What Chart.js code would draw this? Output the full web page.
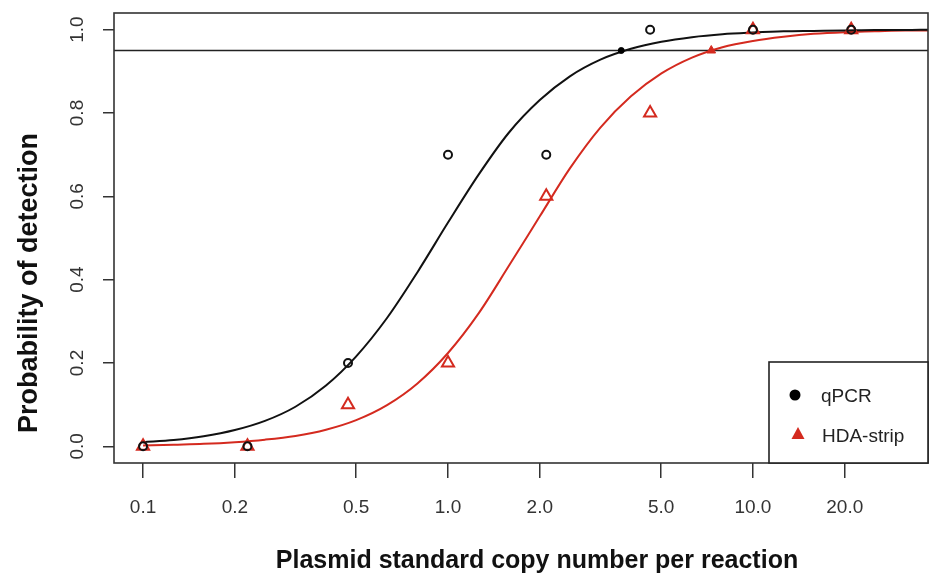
<!DOCTYPE html>
<html>
<head>
<meta charset="utf-8">
<script src="https://cdn.jsdelivr.net/npm/chart.js@4.4.0/dist/chart.umd.min.js"></script>
<style>
  html, body { margin: 0; padding: 0; background: #fff; }
</style>
</head>
<body>
<canvas id="pod" width="932" height="575"></canvas>
<script>
// observed detection rates per dilution
const copies = [0.1, 0.22, 0.47, 1.0, 2.1, 4.6, 10, 21];
const qpcrObs = [0, 0, 0.2, 0.7, 0.7, 1.0, 1.0, 1.0];
const hdaObs = [0, 0, 0.1, 0.2, 0.6, 0.8, 1.0, 1.0];

// fitted curves
const fitX = [0.1, 0.126, 0.158, 0.2, 0.251, 0.316, 0.398, 0.5, 0.631, 0.794, 1.0, 1.26, 1.58, 2.0, 2.51, 3.16, 3.98, 5.01, 6.31, 7.94, 10, 12.6, 15.8, 20, 25.1, 31.6, 37.5];
const qpcrFit = [0.010, 0.015, 0.024, 0.039, 0.061, 0.095, 0.146, 0.216, 0.308, 0.418, 0.537, 0.652, 0.752, 0.831, 0.888, 0.928, 0.954, 0.971, 0.982, 0.989, 0.993, 0.996, 0.997, 0.998, 0.999, 0.999, 1.0];
const hdaFit = [0.002, 0.004, 0.006, 0.010, 0.016, 0.025, 0.040, 0.063, 0.099, 0.151, 0.224, 0.319, 0.432, 0.552, 0.667, 0.765, 0.840, 0.895, 0.933, 0.958, 0.973, 0.983, 0.990, 0.994, 0.996, 0.998, 0.998];

// 95% limit of detection
const lodLevel = 0.95;
const lodX = [3.7, 7.3];

const seriesNames = ["qPCR", "HDA-strip"];
const xRange = [0.0803, 37.5];
const yRange = [-0.04, 1.04];
const xTicks = [0.1, 0.2, 0.5, 1, 2, 5, 10, 20];
const xTickLabels = ["0.1", "0.2", "0.5", "1.0", "2.0", "5.0", "10.0", "20.0"];
const yTicks = [0, 0.2, 0.4, 0.6, 0.8, 1.0];
const yTickLabels = ["0.0", "0.2", "0.4", "0.6", "0.8", "1.0"];
const xTitle = "Plasmid standard copy number per reaction";
const yTitle = "Probability of detection";

const RED = "#d42a1f";
const FONT = '"Liberation Sans", Arial, sans-serif';

const pts = (xs, ys) => xs.map((x, i) => ({ x: x, y: ys[i] }));

// box, rotated y labels, axis titles and legend (R style)
const rFrame = {
  id: "rFrame",
  afterDraw(chart) {
    const ctx = chart.ctx;
    const a = chart.chartArea;
    const yScale = chart.scales.y;
    ctx.save();
    ctx.strokeStyle = "#333";
    ctx.lineWidth = 1.6;
    ctx.strokeRect(a.left, a.top, a.right - a.left, a.bottom - a.top);

    ctx.fillStyle = "#333";
    ctx.font = "19px " + FONT;
    ctx.textAlign = "center";
    ctx.textBaseline = "alphabetic";
    yTicks.forEach((v, i) => {
      ctx.save();
      ctx.translate(83, yScale.getPixelForValue(v));
      ctx.rotate(-Math.PI / 2);
      ctx.fillText(yTickLabels[i], 0, 0);
      ctx.restore();
    });

    ctx.fillStyle = "#111";
    ctx.font = "bold 25px " + FONT;
    ctx.fillText(xTitle, 537, 568, 526);
    ctx.save();
    ctx.translate(37, 283);
    ctx.rotate(-Math.PI / 2);
    ctx.font = "bold 27px " + FONT;
    ctx.fillText(yTitle, 0, 0, 330);
    ctx.restore();

    // legend in the bottom right corner
    ctx.lineWidth = 1.6;
    ctx.strokeStyle = "#222";
    ctx.fillStyle = "#fff";
    ctx.fillRect(a.right - 159, a.bottom - 101, 159, 101);
    ctx.strokeRect(a.right - 159, a.bottom - 101, 159, 101);
    ctx.fillStyle = "#000";
    ctx.beginPath();
    ctx.arc(a.right - 133, a.bottom - 68, 5.5, 0, 2 * Math.PI);
    ctx.fill();
    ctx.fillStyle = RED;
    ctx.beginPath();
    ctx.moveTo(a.right - 130, a.bottom - 36);
    ctx.lineTo(a.right - 123.5, a.bottom - 24);
    ctx.lineTo(a.right - 136.5, a.bottom - 24);
    ctx.closePath();
    ctx.fill();
    ctx.fillStyle = "#222";
    ctx.font = "19px " + FONT;
    ctx.textAlign = "left";
    ctx.fillText(seriesNames[0], a.right - 107, a.bottom - 61);
    ctx.fillText(seriesNames[1], a.right - 106, a.bottom - 21);
    ctx.restore();
  }
};

new Chart(document.getElementById("pod"), {
  type: "scatter",
  data: {
    datasets: [
      {
        label: "qPCR fit",
        data: pts(fitX, qpcrFit),
        showLine: true,
        borderColor: "#111",
        borderWidth: 2,
        pointRadius: 0,
        cubicInterpolationMode: "monotone",
        order: 2
      },
      {
        label: "HDA fit",
        data: pts(fitX, hdaFit),
        showLine: true,
        borderColor: RED,
        borderWidth: 2,
        pointRadius: 0,
        cubicInterpolationMode: "monotone",
        order: 3
      },
      {
        label: "95%",
        data: pts(xRange, [lodLevel, lodLevel]),
        showLine: true,
        borderColor: "#222",
        borderWidth: 1.5,
        pointRadius: 0,
        order: 4
      },
      {
        label: seriesNames[0],
        data: pts(copies, qpcrObs),
        pointStyle: "circle",
        pointRadius: 4,
        borderWidth: 2,
        borderColor: "#111",
        backgroundColor: "rgba(0,0,0,0)",
        order: 1
      },
      {
        label: seriesNames[1],
        data: pts(copies, hdaObs),
        pointStyle: "triangle",
        pointRadius: 7,
        borderWidth: 2,
        borderColor: RED,
        backgroundColor: "rgba(0,0,0,0)",
        order: 1
      },
      {
        label: "LOD qPCR",
        data: pts([lodX[0]], [lodLevel]),
        pointRadius: 3,
        backgroundColor: "#000",
        borderColor: "#000",
        order: 0
      },
      {
        label: "LOD HDA",
        data: pts([lodX[1]], [lodLevel]),
        pointStyle: "triangle",
        pointRadius: 5,
        backgroundColor: RED,
        borderColor: RED,
        order: 0
      }
    ]
  },
  options: {
    responsive: false,
    animation: false,
    layout: { autoPadding: false, padding: { top: 13, right: 4, left: 0, bottom: 0 } },
    plugins: {
      legend: { display: false },
      tooltip: { enabled: false }
    },
    scales: {
      x: {
        type: "logarithmic",
        min: xRange[0],
        max: xRange[1],
        afterFit(s) { s.height = 112; },
        afterBuildTicks(s) { s.ticks = xTicks.map(v => ({ value: v })); },
        ticks: {
          callback: (v, i) => xTickLabels[i],
          color: "#333",
          font: { size: 19, family: FONT },
          padding: 18,
          autoSkip: false,
          maxRotation: 0
        },
        grid: { drawOnChartArea: false, drawTicks: true, tickLength: 15, color: "#333", lineWidth: 1.5 },
        border: { display: false }
      },
      y: {
        min: yRange[0],
        max: yRange[1],
        afterFit(s) { s.width = 114; },
        afterBuildTicks(s) { s.ticks = yTicks.map(v => ({ value: v })); },
        ticks: { display: false },
        grid: { drawOnChartArea: false, drawTicks: true, tickLength: 11, color: "#333", lineWidth: 1.5 },
        border: { display: false }
      }
    }
  },
  plugins: [rFrame]
});
</script>
</body>
</html>
